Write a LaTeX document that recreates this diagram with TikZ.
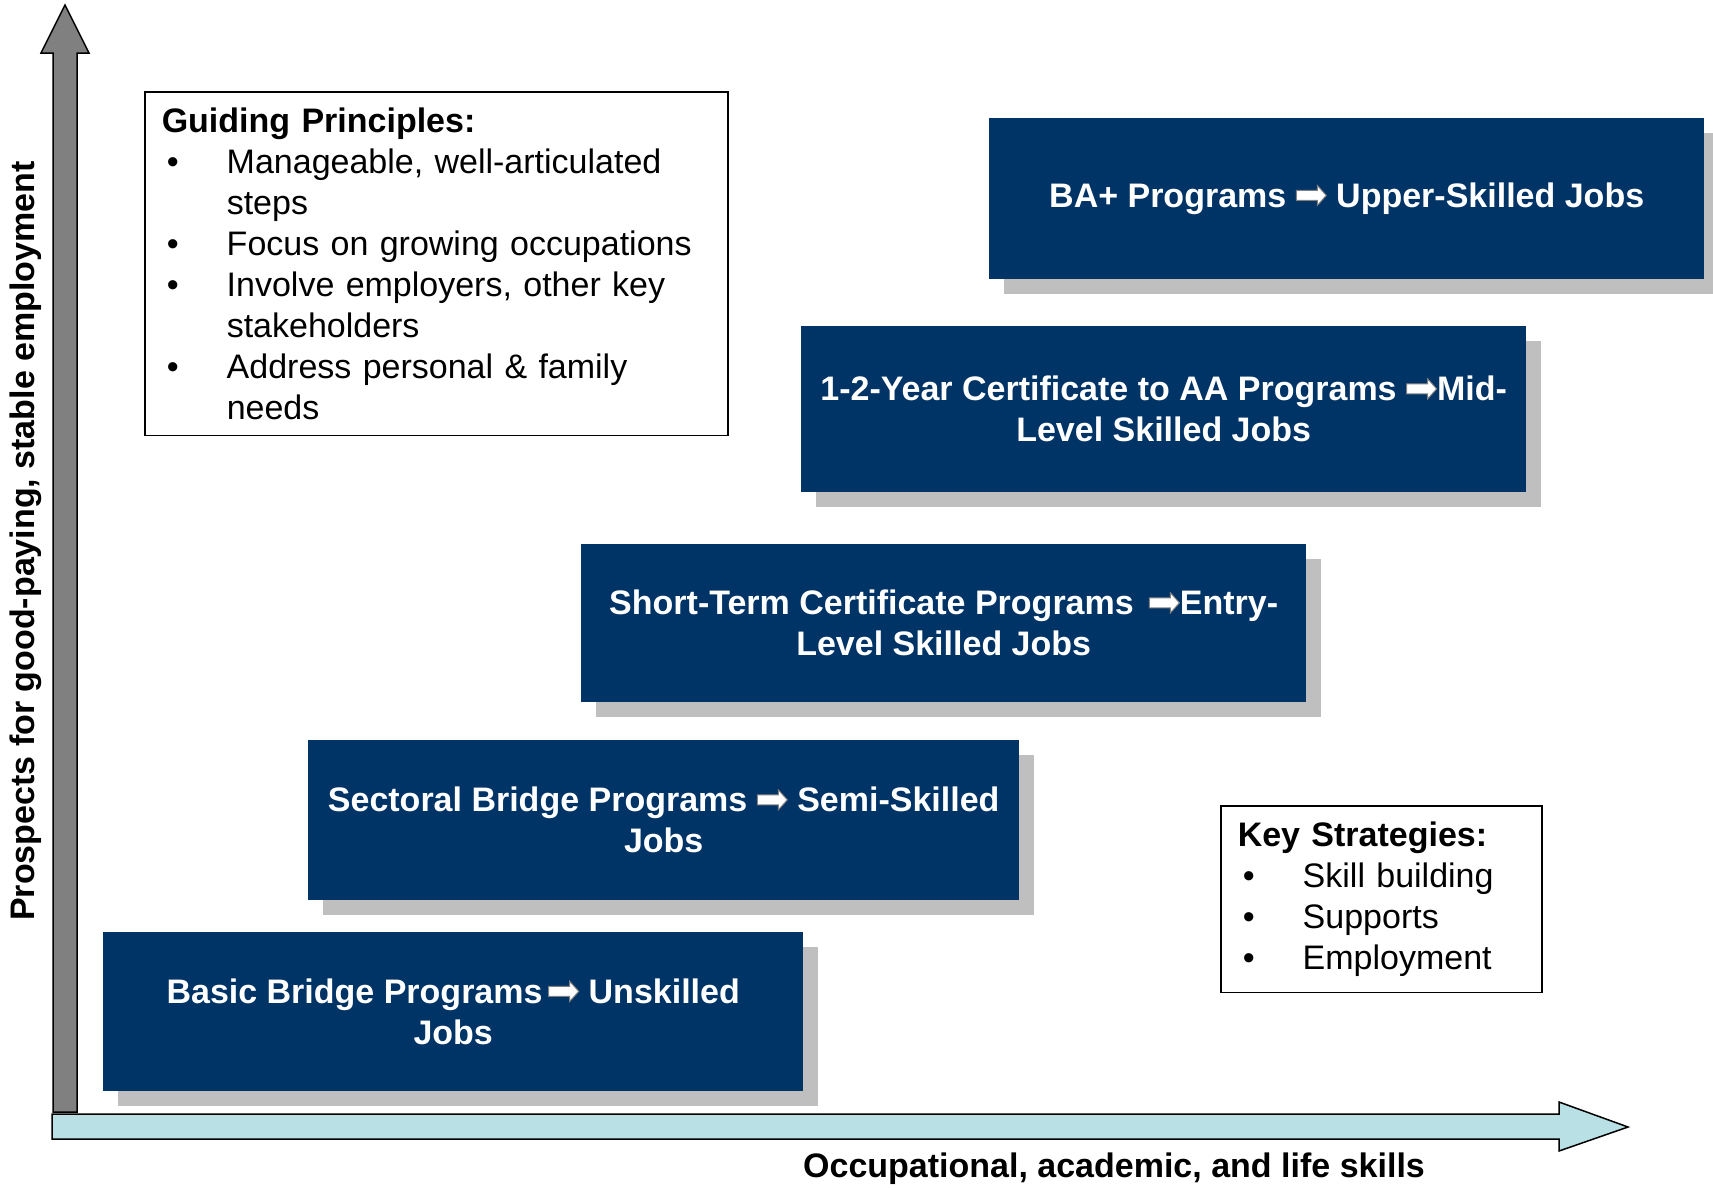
\documentclass[tikz,border=0pt]{standalone}
\usepackage{fontspec}
\setmainfont{Liberation Sans}
\usetikzlibrary{shadows}
\definecolor{progblue}{RGB}{0,51,102}
\definecolor{shgray}{RGB}{191,191,191}
\definecolor{axgray}{RGB}{128,128,128}
\definecolor{axblue}{RGB}{185,224,228}
\newcommand{\barr}{\tikz[baseline=0pt,x=1pt,y=1pt]\draw[fill=white,draw=gray,line width=1pt] (0,7)--(21,7)--(21,2)--(30,12)--(21,22)--(21,17)--(0,17)--cycle;}
\newcommand{\bul}{\makebox[65pt][l]{\hspace{5pt}\textbullet}}
\newcommand{\ind}{\hspace*{65pt}}
\begin{document}
\begin{tikzpicture}[x=1pt,y=-1pt,
  prog/.style={fill=progblue,text=white,font=\fontsize{34}{41}\selectfont\bfseries,align=center,anchor=north west,inner sep=0pt,drop shadow={shadow xshift=15pt,shadow yshift=-15pt,fill=shgray,opacity=1}},
  note/.style={draw,line width=1.5pt,anchor=north west,align=left,inner xsep=17pt,inner ysep=16pt,font=\fontsize{34}{41}\selectfont},
  lab/.style={font=\fontsize{34}{41}\selectfont\bfseries}]
\useasboundingbox (0,0) rectangle (1713,1189);
% axes
\draw[fill=axgray,line width=1.5pt] (53,1112) -- (53,53) -- (41,53) -- (65,5) -- (89,53) -- (77,53) -- (77,1112) -- cycle;
\draw[fill=axblue,line width=1.5pt] (52,1114) -- (1559,1114) -- (1559,1102) -- (1628,1127) -- (1559,1151) -- (1559,1139) -- (52,1139) -- cycle;
\node[lab] (xlab) at (1114,1169) {Occupational, academic, and life skills};
\node[lab,rotate=90] (ylab) at (26,541) {Prospects for good-paying, stable employment};
% program steps
\node[prog,minimum width=715pt,minimum height=161pt] (ba) at (989,118) {BA+ Programs \barr\ Upper-Skilled Jobs};
\node[prog,minimum width=725pt,minimum height=166pt] (aa) at (801,326) {1-2-Year Certificate to AA Programs \barr Mid-\\Level Skilled Jobs};
\node[prog,minimum width=725pt,minimum height=158pt] (st) at (581,544) {Short-Term Certificate Programs \,\barr Entry-\\Level Skilled Jobs};
\node[prog,minimum width=711pt,minimum height=160pt] (sb) at (308,740) {Sectoral Bridge Programs \barr\ Semi-Skilled\\Jobs};
\node[prog,minimum width=700pt,minimum height=159pt] (bb) at (103,932) {Basic Bridge Programs\,\barr\ Unskilled\\Jobs};
% notes
\node[note,text width=549pt] (gp) at (144,91) {\textbf{Guiding Principles:}\\
\bul Manageable, well-articulated\\
\ind steps\\
\bul Focus on growing occupations\\
\bul Involve employers, other key\\
\ind stakeholders\\
\bul Address personal \& family\\
\ind needs};
\node[note,text width=287pt] (ks) at (1220,805) {\textbf{Key Strategies:}\\
\bul Skill building\\
\bul Supports\\
\bul Employment};
\end{tikzpicture}
\end{document}
